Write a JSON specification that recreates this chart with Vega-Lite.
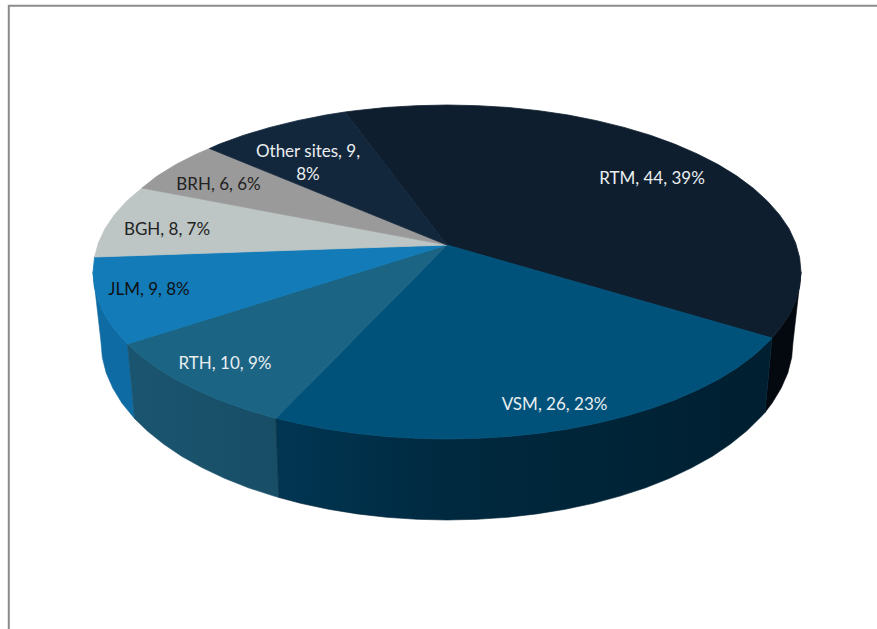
{"$schema":"https://vega.github.io/schema/vega-lite/v6.json","width":877,"height":629,"padding":0,"autosize":{"type":"none"},"background":"white","config":{"view":{"stroke":null}},
"datasets":{
"sites":[{"site":"RTM","count":44,"share":39,"label":"RTM, 44, 39%"},{"site":"VSM","count":26,"share":23,"label":"VSM, 26, 23%"},{"site":"RTH","count":10,"share":9,"label":"RTH, 10, 9%"},{"site":"JLM","count":9,"share":8,"label":"JLM, 9, 8%"},{"site":"BGH","count":8,"share":7,"label":"BGH, 8, 7%"},{"site":"BRH","count":6,"share":6,"label":"BRH, 6, 6%"},{"site":"Other sites","count":9,"share":8,"label":"Other sites, 9,\n8%"}],
"anchors":[{"site":"RTM","x":652,"y":177},{"site":"VSM","x":554.5,"y":403},{"site":"RTH","x":225,"y":362.5},{"site":"JLM","x":149,"y":288},{"site":"BGH","x":167,"y":228.5},{"site":"BRH","x":218.5,"y":183.5},{"site":"Other sites","x":308,"y":150}],
"frame":[{"seq":0,"x":8.8,"y":629},{"seq":1,"x":8.8,"y":5.8},{"seq":2,"x":877,"y":5.8}],
"top":[
{"site":"RTM","seq":0,"x":447,"y":245},{"site":"RTM","seq":1,"x":345,"y":112},{"site":"RTM","seq":2,"x":355.3,"y":110.7},{"site":"RTM","seq":3,"x":385.5,"y":107.5},{"site":"RTM","seq":4,"x":416.2,"y":105.7},{"site":"RTM","seq":5,"x":447,"y":105},{"site":"RTM","seq":6,"x":477.8,"y":105.7},{"site":"RTM","seq":7,"x":508.5,"y":107.5},{"site":"RTM","seq":8,"x":538.7,"y":110.7},{"site":"RTM","seq":9,"x":568.1,"y":115},{"site":"RTM","seq":10,"x":596.7,"y":120.7},{"site":"RTM","seq":11,"x":624,"y":127.4},{"site":"RTM","seq":12,"x":650.2,"y":135.2},{"site":"RTM","seq":13,"x":674.6,"y":144.1},{"site":"RTM","seq":14,"x":697.3,"y":153.9},{"site":"RTM","seq":15,"x":718.2,"y":164.6},{"site":"RTM","seq":16,"x":736.9,"y":176.1},{"site":"RTM","seq":17,"x":753.6,"y":188.5},{"site":"RTM","seq":18,"x":767.7,"y":201.4},{"site":"RTM","seq":19,"x":779.6,"y":214.9},{"site":"RTM","seq":20,"x":789,"y":228.7},{"site":"RTM","seq":21,"x":795.6,"y":243},{"site":"RTM","seq":22,"x":799.6,"y":257.5},{"site":"RTM","seq":23,"x":801,"y":272},{"site":"RTM","seq":24,"x":799.6,"y":286.5},{"site":"RTM","seq":25,"x":795.6,"y":301},{"site":"RTM","seq":26,"x":789,"y":315.3},{"site":"RTM","seq":27,"x":779.6,"y":329.1},{"site":"RTM","seq":28,"x":772,"y":338},{"site":"RTM","seq":29,"x":447,"y":245},
{"site":"VSM","seq":0,"x":447,"y":245},{"site":"VSM","seq":1,"x":772,"y":338},{"site":"VSM","seq":2,"x":767.7,"y":342.6},{"site":"VSM","seq":3,"x":753.6,"y":355.5},{"site":"VSM","seq":4,"x":736.9,"y":367.9},{"site":"VSM","seq":5,"x":718.2,"y":379.4},{"site":"VSM","seq":6,"x":697.3,"y":390.1},{"site":"VSM","seq":7,"x":674.6,"y":399.9},{"site":"VSM","seq":8,"x":650.2,"y":408.8},{"site":"VSM","seq":9,"x":624,"y":416.6},{"site":"VSM","seq":10,"x":596.7,"y":423.3},{"site":"VSM","seq":11,"x":568.1,"y":429},{"site":"VSM","seq":12,"x":538.7,"y":433.3},{"site":"VSM","seq":13,"x":508.5,"y":436.5},{"site":"VSM","seq":14,"x":477.8,"y":438.3},{"site":"VSM","seq":15,"x":447,"y":439},{"site":"VSM","seq":16,"x":416.2,"y":438.3},{"site":"VSM","seq":17,"x":385.5,"y":436.5},{"site":"VSM","seq":18,"x":355.3,"y":433.3},{"site":"VSM","seq":19,"x":325.9,"y":429},{"site":"VSM","seq":20,"x":297.3,"y":423.3},{"site":"VSM","seq":21,"x":276,"y":418.3},{"site":"VSM","seq":22,"x":447,"y":245},
{"site":"RTH","seq":0,"x":447,"y":245},{"site":"RTH","seq":1,"x":276,"y":418.3},{"site":"RTH","seq":2,"x":270,"y":416.6},{"site":"RTH","seq":3,"x":243.8,"y":408.8},{"site":"RTH","seq":4,"x":219.4,"y":399.9},{"site":"RTH","seq":5,"x":196.7,"y":390.1},{"site":"RTH","seq":6,"x":175.8,"y":379.4},{"site":"RTH","seq":7,"x":157.1,"y":367.9},{"site":"RTH","seq":8,"x":140.4,"y":355.5},{"site":"RTH","seq":9,"x":127.5,"y":344},{"site":"RTH","seq":10,"x":447,"y":245},
{"site":"JLM","seq":0,"x":447,"y":245},{"site":"JLM","seq":1,"x":127.5,"y":344},{"site":"JLM","seq":2,"x":114.4,"y":329.1},{"site":"JLM","seq":3,"x":105,"y":315.3},{"site":"JLM","seq":4,"x":98.4,"y":301},{"site":"JLM","seq":5,"x":94.4,"y":286.5},{"site":"JLM","seq":6,"x":93,"y":272},{"site":"JLM","seq":7,"x":94.6,"y":257},{"site":"JLM","seq":8,"x":447,"y":245},
{"site":"BGH","seq":0,"x":447,"y":245},{"site":"BGH","seq":1,"x":94.6,"y":257},{"site":"BGH","seq":2,"x":98.4,"y":243},{"site":"BGH","seq":3,"x":105,"y":228.7},{"site":"BGH","seq":4,"x":114.4,"y":214.9},{"site":"BGH","seq":5,"x":126.3,"y":201.4},{"site":"BGH","seq":6,"x":142,"y":188},{"site":"BGH","seq":7,"x":447,"y":245},
{"site":"BRH","seq":0,"x":447,"y":245},{"site":"BRH","seq":1,"x":142,"y":188},{"site":"BRH","seq":2,"x":157.1,"y":176.1},{"site":"BRH","seq":3,"x":175.8,"y":164.6},{"site":"BRH","seq":4,"x":196.7,"y":153.9},{"site":"BRH","seq":5,"x":209.5,"y":148.5},{"site":"BRH","seq":6,"x":447,"y":245},
{"site":"Other sites","seq":0,"x":447,"y":245},{"site":"Other sites","seq":1,"x":209.5,"y":148.5},{"site":"Other sites","seq":2,"x":219.4,"y":144.1},{"site":"Other sites","seq":3,"x":243.8,"y":135.2},{"site":"Other sites","seq":4,"x":270,"y":127.4},{"site":"Other sites","seq":5,"x":297.3,"y":120.7},{"site":"Other sites","seq":6,"x":325.9,"y":115},{"site":"Other sites","seq":7,"x":345,"y":112},{"site":"Other sites","seq":8,"x":447,"y":245}],
"wall":[
{"site":"RTM","seq":0,"x":772,"y":338},{"site":"RTM","seq":1,"x":779.6,"y":329.1},{"site":"RTM","seq":2,"x":789,"y":315.3},{"site":"RTM","seq":3,"x":795.6,"y":301},{"site":"RTM","seq":4,"x":799.6,"y":286.5},{"site":"RTM","seq":5,"x":801,"y":272},{"site":"RTM","seq":6,"x":793,"y":342},{"site":"RTM","seq":7,"x":791.7,"y":357.5},{"site":"RTM","seq":8,"x":787.8,"y":372.9},{"site":"RTM","seq":9,"x":781.2,"y":388.1},{"site":"RTM","seq":10,"x":772.2,"y":402.9},{"site":"RTM","seq":11,"x":765,"y":412.5},{"site":"RTM","seq":12,"x":772,"y":338},
{"site":"JLM","seq":0,"x":127.5,"y":344},{"site":"JLM","seq":1,"x":114.4,"y":329.1},{"site":"JLM","seq":2,"x":105,"y":315.3},{"site":"JLM","seq":3,"x":98.4,"y":301},{"site":"JLM","seq":4,"x":94.4,"y":286.5},{"site":"JLM","seq":5,"x":93,"y":272},{"site":"JLM","seq":6,"x":101,"y":342},{"site":"JLM","seq":7,"x":102.3,"y":357.5},{"site":"JLM","seq":8,"x":106.2,"y":372.9},{"site":"JLM","seq":9,"x":112.8,"y":388.1},{"site":"JLM","seq":10,"x":121.8,"y":402.9},{"site":"JLM","seq":11,"x":134.7,"y":418.7},{"site":"JLM","seq":12,"x":127.5,"y":344},
{"site":"RTH","seq":0,"x":276,"y":418.3},{"site":"RTH","seq":1,"x":270,"y":416.6},{"site":"RTH","seq":2,"x":243.8,"y":408.8},{"site":"RTH","seq":3,"x":219.4,"y":399.9},{"site":"RTH","seq":4,"x":196.7,"y":390.1},{"site":"RTH","seq":5,"x":175.8,"y":379.4},{"site":"RTH","seq":6,"x":157.1,"y":367.9},{"site":"RTH","seq":7,"x":140.4,"y":355.5},{"site":"RTH","seq":8,"x":127.5,"y":344},{"site":"RTH","seq":9,"x":134.7,"y":418.7},{"site":"RTH","seq":10,"x":147.4,"y":431},{"site":"RTH","seq":11,"x":163.6,"y":444.1},{"site":"RTH","seq":12,"x":182,"y":456.5},{"site":"RTH","seq":13,"x":202.4,"y":467.8},{"site":"RTH","seq":14,"x":224.5,"y":478.3},{"site":"RTH","seq":15,"x":248.4,"y":487.8},{"site":"RTH","seq":16,"x":274,"y":496.1},{"site":"RTH","seq":17,"x":279,"y":497.5},{"site":"RTH","seq":18,"x":276,"y":418.3},
{"site":"VSM","seq":0,"x":772,"y":338},{"site":"VSM","seq":1,"x":767.7,"y":342.6},{"site":"VSM","seq":2,"x":753.6,"y":355.5},{"site":"VSM","seq":3,"x":736.9,"y":367.9},{"site":"VSM","seq":4,"x":718.2,"y":379.4},{"site":"VSM","seq":5,"x":697.3,"y":390.1},{"site":"VSM","seq":6,"x":674.6,"y":399.9},{"site":"VSM","seq":7,"x":650.2,"y":408.8},{"site":"VSM","seq":8,"x":624,"y":416.6},{"site":"VSM","seq":9,"x":596.7,"y":423.3},{"site":"VSM","seq":10,"x":568.1,"y":429},{"site":"VSM","seq":11,"x":538.7,"y":433.3},{"site":"VSM","seq":12,"x":508.5,"y":436.5},{"site":"VSM","seq":13,"x":477.8,"y":438.3},{"site":"VSM","seq":14,"x":447,"y":439},{"site":"VSM","seq":15,"x":416.2,"y":438.3},{"site":"VSM","seq":16,"x":385.5,"y":436.5},{"site":"VSM","seq":17,"x":355.3,"y":433.3},{"site":"VSM","seq":18,"x":325.9,"y":429},{"site":"VSM","seq":19,"x":297.3,"y":423.3},{"site":"VSM","seq":20,"x":276,"y":418.3},{"site":"VSM","seq":21,"x":279,"y":497.5},{"site":"VSM","seq":22,"x":300.6,"y":503.3},{"site":"VSM","seq":23,"x":328.7,"y":509.3},{"site":"VSM","seq":24,"x":357.4,"y":513.9},{"site":"VSM","seq":25,"x":386.8,"y":517.3},{"site":"VSM","seq":26,"x":416.9,"y":519.3},{"site":"VSM","seq":27,"x":447,"y":520},{"site":"VSM","seq":28,"x":477.1,"y":519.3},{"site":"VSM","seq":29,"x":507.2,"y":517.3},{"site":"VSM","seq":30,"x":536.6,"y":513.9},{"site":"VSM","seq":31,"x":565.3,"y":509.3},{"site":"VSM","seq":32,"x":593.4,"y":503.3},{"site":"VSM","seq":33,"x":620,"y":496.1},{"site":"VSM","seq":34,"x":645.6,"y":487.8},{"site":"VSM","seq":35,"x":669.5,"y":478.3},{"site":"VSM","seq":36,"x":691.6,"y":467.8},{"site":"VSM","seq":37,"x":712,"y":456.5},{"site":"VSM","seq":38,"x":730.4,"y":444.1},{"site":"VSM","seq":39,"x":746.6,"y":431},{"site":"VSM","seq":40,"x":760.5,"y":417.3},{"site":"VSM","seq":41,"x":765,"y":412.5},{"site":"VSM","seq":42,"x":772,"y":338}]},
"encoding":{"x":{"field":"x","type":"quantitative","axis":null,"scale":{"domain":[0,877],"nice":false,"zero":false}},"y":{"field":"y","type":"quantitative","axis":null,"scale":{"domain":[629,0],"nice":false,"zero":false}}},
"layer":[
{"data":{"name":"frame"},"mark":{"type":"line","stroke":"#8c8c8c","strokeWidth":2},"encoding":{"order":{"field":"seq","type":"quantitative"}}},
{"data":{"name":"wall"},"transform":[{"filter":"datum.site==='RTM'"}],"mark":{"type":"line","fill":"#03090f","stroke":"#03090f","strokeWidth":0.6},"encoding":{"order":{"field":"seq","type":"quantitative"}}},
{"data":{"name":"wall"},"transform":[{"filter":"datum.site==='JLM'"}],"mark":{"type":"line","fill":"#0f6ba3","stroke":"#0f6ba3","strokeWidth":0.6},"encoding":{"order":{"field":"seq","type":"quantitative"}}},
{"data":{"name":"wall"},"transform":[{"filter":"datum.site==='RTH'"}],"mark":{"type":"line","fill":{"gradient":"linear","x1":0,"x2":1,"y1":0,"y2":0,"stops":[{"offset":0,"color":"#1a5570"},{"offset":1,"color":"#184d66"}]},"stroke":"#184f68","strokeWidth":0.6},"encoding":{"order":{"field":"seq","type":"quantitative"}}},
{"data":{"name":"wall"},"transform":[{"filter":"datum.site==='VSM'"}],"mark":{"type":"line","fill":{"gradient":"linear","x1":0,"x2":1,"y1":0,"y2":0,"stops":[{"offset":0,"color":"#013653"},{"offset":0.35,"color":"#00293f"},{"offset":1,"color":"#001f30"}]},"stroke":"#002236","strokeWidth":0.6},"encoding":{"order":{"field":"seq","type":"quantitative"}}},
{"data":{"name":"top"},"mark":{"type":"line","strokeWidth":0.8},"encoding":{"order":{"field":"seq","type":"quantitative"},"detail":{"field":"site"},"fill":{"field":"site","type":"nominal","legend":null,"scale":{"domain":["RTM","VSM","RTH","JLM","BGH","BRH","Other sites"],"range":["#0e1e2f","#00527a","#1b6484","#127bb8","#bdc5c5","#9a9a9a","#13273c"]}},"stroke":{"field":"site","type":"nominal","legend":null,"scale":{"domain":["RTM","VSM","RTH","JLM","BGH","BRH","Other sites"],"range":["#0e1e2f","#00527a","#1b6484","#127bb8","#bdc5c5","#9a9a9a","#13273c"]}}}},
{"data":{"name":"sites"},"transform":[{"lookup":"site","from":{"data":{"name":"anchors"},"key":"site","fields":["x","y"]}}],"mark":{"type":"text","font":"Lato","fontSize":17,"align":"center","baseline":"middle","lineBreak":"\n","lineHeight":23,"dy":1.5},"encoding":{"text":{"field":"label"},"color":{"field":"site","type":"nominal","legend":null,"scale":{"domain":["RTM","VSM","RTH","JLM","BGH","BRH","Other sites"],"range":["#eaeef0","#eaeef0","#eaeef0","#111111","#222222","#222222","#eaeef0"]}}}}
]}
